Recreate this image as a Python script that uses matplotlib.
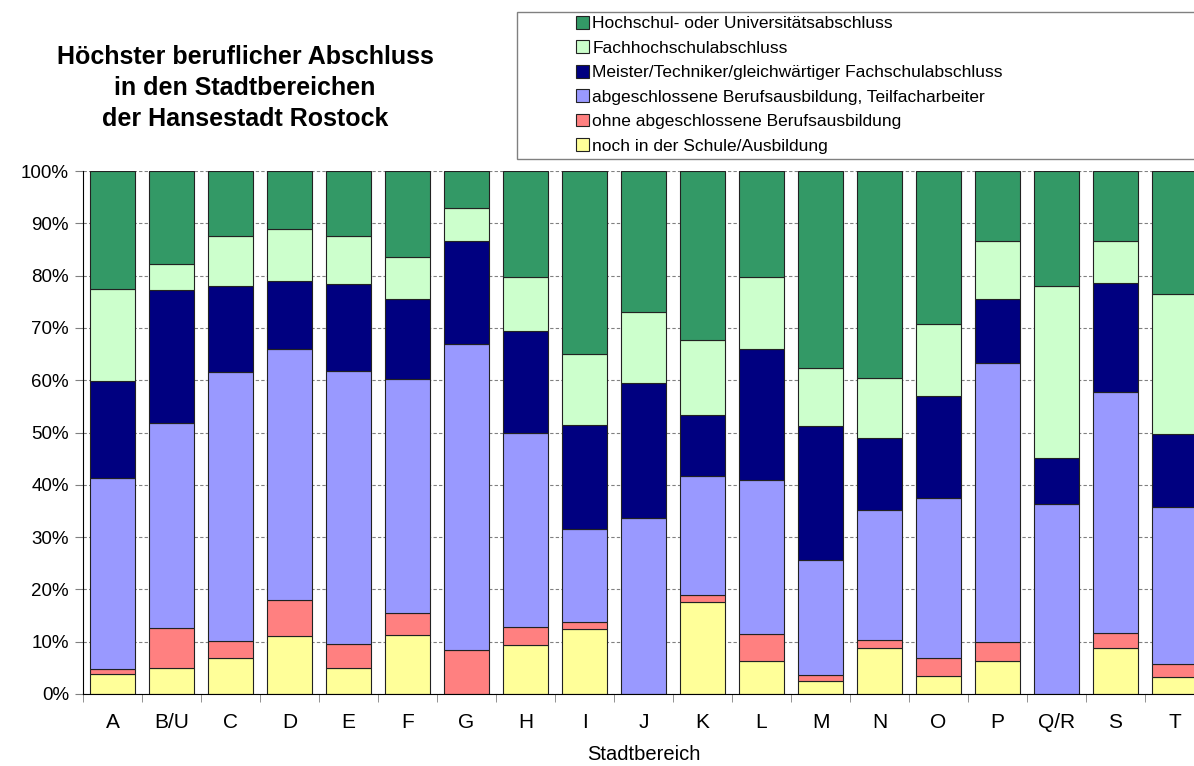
import matplotlib
matplotlib.use('Agg')
import matplotlib.pyplot as plt
from matplotlib.patches import Rectangle, Patch
import numpy as np

plt.rcParams['font.family'] = ['Liberation Sans', 'DejaVu Sans']

bereiche = ['A', 'B/U', 'C', 'D', 'E', 'F', 'G', 'H', 'I', 'J',
            'K', 'L', 'M', 'N', 'O', 'P', 'Q/R', 'S', 'T']

# Anteile in % (von unten nach oben gestapelt)
schule = [3.8, 4.9, 6.8, 11.0, 5.0, 11.2, 0.0, 9.3, 12.4, 0.0,
          17.6, 6.4, 2.5, 8.7, 3.4, 6.4, 0.0, 8.7, 3.3]
ohne = [0.9, 7.7, 3.3, 6.9, 4.6, 4.2, 8.4, 3.6, 1.3, 0.0,
        1.3, 5.0, 1.1, 1.6, 3.4, 3.5, 0.0, 3.0, 2.4]
beruf = [36.6, 39.2, 51.4, 48.1, 52.1, 44.8, 58.5, 37.0, 17.8, 33.7,
         22.8, 29.6, 22.0, 24.9, 30.6, 53.3, 36.3, 46.0, 30.0]
meister = [18.5, 25.4, 16.5, 13.0, 16.6, 15.4, 19.8, 19.6, 19.9, 25.7,
           11.6, 24.9, 25.6, 13.7, 19.5, 12.4, 8.9, 20.9, 14.1]
fh = [17.6, 5.1, 9.5, 10.0, 9.3, 7.9, 6.3, 10.2, 13.6, 13.6,
      14.4, 13.9, 11.2, 11.6, 13.8, 11.1, 32.9, 8.1, 26.7]
uni = [22.6, 17.7, 12.5, 11.0, 12.4, 16.5, 7.0, 20.3, 35.0, 27.0,
       32.3, 20.2, 37.6, 39.5, 29.3, 13.3, 21.9, 13.3, 23.5]

reihen = [
    (schule, '#FFFF99', 'noch in der Schule/Ausbildung'),
    (ohne, '#FF8080', 'ohne abgeschlossene Berufsausbildung'),
    (beruf, '#9999FF', 'abgeschlossene Berufsausbildung, Teilfacharbeiter'),
    (meister, '#000080', 'Meister/Techniker/gleichwärtiger Fachschulabschluss'),
    (fh, '#CCFFCC', 'Fachhochschulabschluss'),
    (uni, '#339966', 'Hochschul- oder Universitätsabschluss'),
]

W, H = 1194, 766
fig = plt.figure(figsize=(W / 100, H / 100), dpi=100)
ax = fig.add_axes([83 / W, (H - 694) / H, (1204 - 83) / W, 523 / H])

x = np.arange(len(bereiche))
unten = np.zeros(len(bereiche))
for werte, farbe, name in reihen:
    werte = np.array(werte)
    ax.bar(x, werte, 0.76, bottom=unten, color=farbe, edgecolor='#222222',
           linewidth=0.8, zorder=3)
    unten += werte

ax.set_xlim(-0.5, len(bereiche) - 0.5)
ax.set_ylim(0, 100)
ax.set_yticks(np.arange(0, 101, 10))
ax.set_yticklabels([f'{v}%' for v in range(0, 101, 10)], fontsize=13.5)
ax.yaxis.grid(True, linestyle=(0, (3, 2)), color='#808080', linewidth=0.8, zorder=0)
ax.set_xticks(x)
ax.set_xticklabels(bereiche, fontsize=15)
ax.set_xticks(np.arange(-0.5, len(bereiche)), minor=True)
ax.tick_params(axis='x', which='major', length=0, pad=14)
ax.tick_params(axis='x', which='minor', length=6, color='#808080', direction='out')
ax.tick_params(axis='y', length=6, color='#808080', direction='out', pad=4)
for s in ['top', 'right']:
    ax.spines[s].set_visible(False)
ax.spines['left'].set_zorder(4)
ax.spines['bottom'].set_zorder(4)
ax.set_xlabel('Stadtbereich', fontsize=14.5, labelpad=9)

fig.text(245 / W, 1 - 88 / H,
         'Höchster beruflicher Abschluss\nin den Stadtbereichen\nder Hansestadt Rostock',
         ha='center', va='center', fontsize=18, fontweight='bold', linespacing=1.35)

# Legendenrahmen
fig.patches.append(Rectangle((517 / W, 1 - 159 / H), (W - 517 + 20) / W, 147 / H,
                             transform=fig.transFigure, facecolor='white',
                             edgecolor='#808080', linewidth=1, zorder=1))
handles = [Patch(facecolor=f, edgecolor='#222222', linewidth=0.8) for _, f, _ in reihen][::-1]
labels = [n for _, _, n in reihen][::-1]
fig.legend(handles, labels, loc='upper left', bbox_to_anchor=(576 / W, 1 - 16 / H),
           frameon=False, fontsize=12.5, handlelength=0.75, handleheight=0.75,
           handletextpad=0.2, labelspacing=0.52, borderpad=0, borderaxespad=0)

fig.savefig('out.png', dpi=100)
